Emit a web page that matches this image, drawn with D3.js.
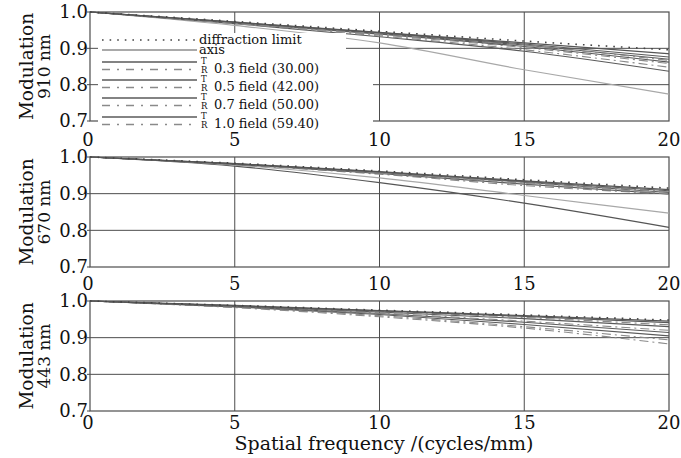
<!DOCTYPE html>
<html>
<head>
<meta charset="utf-8">
<script src="https://cdn.jsdelivr.net/npm/d3@7"></script>
<style>
  body { margin: 0; background: #fff; }
</style>
</head>
<body>
<div id="chart"></div>
<script>
// spatial frequency samples (cycles/mm)
const freq = [0, 5, 10, 15, 20];
const xTicks = [0, 5, 10, 15, 20];
const yTicks = [0.7, 0.8, 0.9, 1.0];

const seriesNames = ["diffraction limit", "axis",
    "0.3 T", "0.3 R", "0.5 T", "0.5 R", "0.7 T", "0.7 R", "1.0 T", "1.0 R"];
const legendFields = ["0.3 field (30.00)", "0.5 field (42.00)", "0.7 field (50.00)", "1.0 field (59.40)"];
const wavelengths = ["910 nm", "670 nm", "443 nm"];

// MTF values, one row per series
const mtf910 = [
    [1, 0.974, 0.947, 0.920, 0.896],
    [1, 0.972, 0.944, 0.915, 0.885],
    [1, 0.972, 0.943, 0.912, 0.876],
    [1, 0.970, 0.940, 0.908, 0.867],
    [1, 0.971, 0.941, 0.909, 0.870],
    [1, 0.969, 0.937, 0.902, 0.858],
    [1, 0.970, 0.939, 0.905, 0.862],
    [1, 0.968, 0.934, 0.896, 0.848],
    [1, 0.968, 0.932, 0.892, 0.837],
    [1, 0.963, 0.915, 0.841, 0.774]
];
const mtf670 = [
    [1, 0.983, 0.962, 0.938, 0.915],
    [1, 0.982, 0.960, 0.935, 0.911],
    [1, 0.982, 0.959, 0.933, 0.908],
    [1, 0.981, 0.958, 0.932, 0.905],
    [1, 0.981, 0.958, 0.931, 0.903],
    [1, 0.980, 0.956, 0.928, 0.900],
    [1, 0.980, 0.955, 0.926, 0.899],
    [1, 0.979, 0.953, 0.922, 0.899],
    [1, 0.978, 0.943, 0.895, 0.847],
    [1, 0.975, 0.930, 0.874, 0.808]
];
const mtf443 = [
    [1, 0.988, 0.975, 0.962, 0.948],
    [1, 0.988, 0.974, 0.960, 0.945],
    [1, 0.987, 0.973, 0.958, 0.941],
    [1, 0.987, 0.972, 0.955, 0.935],
    [1, 0.986, 0.970, 0.952, 0.930],
    [1, 0.985, 0.967, 0.945, 0.920],
    [1, 0.985, 0.966, 0.942, 0.914],
    [1, 0.983, 0.960, 0.930, 0.894],
    [1, 0.984, 0.963, 0.936, 0.905],
    [1, 0.982, 0.957, 0.926, 0.883]
];

function init() {
    const W = 681, H = 458;
    const left = 90, right = 669;
    const panels = [
        { top: 12, bottom: 121, data: mtf910, label: wavelengths[0], tickDy: 25 },
        { top: 157, bottom: 267, data: mtf670, label: wavelengths[1], tickDy: 23 },
        { top: 301, bottom: 411, data: mtf443, label: wavelengths[2], tickDy: 18 }
    ];

    // line style per series
    const styleOf = (name, i) => {
        if (i === 0) return { stroke: "#444", dash: "1.6,6", width: 1.6 };
        if (name === "axis") return { stroke: "#555", dash: null, width: 1.2 };
        if (name.endsWith("T")) return { stroke: "#5a5a5a", dash: null, width: 1.1 };
        return { stroke: "#8a8a8a", dash: "9,4,2,4", width: 1.1 };
    };
    const lightStyle = { stroke: "#a8a8a8", dash: null, width: 1.2 };

    const svg = d3.select("#chart").append("svg")
        .attr("width", W).attr("height", H)
        .attr("font-family", "'DejaVu Serif', 'Liberation Serif', serif")
        .attr("fill", "#111");

    const x = d3.scaleLinear().domain([0, 20]).range([left, right]);

    panels.forEach((p, pi) => {
        const y = d3.scaleLinear().domain([0.7, 1.0]).range([p.bottom, p.top]);
        const g = svg.append("g");

        // grid
        g.selectAll(".vg").data(xTicks.slice(1, -1)).join("line")
            .attr("x1", d => x(d)).attr("x2", d => x(d))
            .attr("y1", p.top).attr("y2", p.bottom)
            .attr("stroke", "#4d4d4d").attr("stroke-width", 1);
        g.selectAll(".hg").data(yTicks.slice(1, -1)).join("line")
            .attr("x1", left - 3).attr("x2", right)
            .attr("y1", d => y(d)).attr("y2", d => y(d))
            .attr("stroke", "#4d4d4d").attr("stroke-width", 1);
        g.append("rect")
            .attr("x", left).attr("y", p.top)
            .attr("width", right - left).attr("height", p.bottom - p.top)
            .attr("fill", "none").attr("stroke", "#4d4d4d").attr("stroke-width", 1.2);
        g.selectAll(".yt").data([0.7, 1.0]).join("line")
            .attr("x1", left - 3).attr("x2", left)
            .attr("y1", d => y(d)).attr("y2", d => y(d))
            .attr("stroke", "#4d4d4d");

        // curves
        const line = d3.line()
            .x((d, i) => x(freq[i]))
            .y(d => y(d))
            .curve(d3.curveMonotoneX);
        const order = d3.range(seriesNames.length).reverse();
        g.selectAll(".curve").data(order).join("path")
            .attr("d", i => line(p.data[i]))
            .attr("fill", "none")
            .each(function(i) {
                let s = styleOf(seriesNames[i], i);
                if (i === 9 && pi < 2) s = lightStyle;
                if (i === 8 && pi === 1) s = lightStyle;
                if (i === 9 && pi === 1) s = { stroke: "#555", dash: null, width: 1.2 };
                d3.select(this)
                    .attr("stroke", s.stroke)
                    .attr("stroke-width", s.width)
                    .attr("stroke-dasharray", s.dash);
            });

        // tick labels
        g.selectAll(".yl").data(yTicks).join("text")
            .attr("x", left - 2).attr("y", d => y(d))
            .attr("dy", "0.36em")
            .attr("text-anchor", "end")
            .attr("font-size", 18)
            .text(d => d.toFixed(1));
        g.selectAll(".xl").data(xTicks).join("text")
            .attr("x", d => x(d) - (d === 0 ? 2 : 0)).attr("y", p.bottom + p.tickDy)
            .attr("text-anchor", "middle")
            .attr("font-size", 18)
            .text(d => d);

        // y title, two lines
        const cy = (p.top + p.bottom) / 2;
        g.append("text")
            .attr("transform", `translate(33,${cy}) rotate(-90)`)
            .attr("text-anchor", "middle")
            .attr("font-size", 18.5)
            .text("Modulation");
        g.append("text")
            .attr("transform", `translate(50,${cy}) rotate(-90)`)
            .attr("text-anchor", "middle")
            .attr("font-size", 17)
            .text(p.label);
    });

    // legend sits on a white box over the first panel
    const lg = svg.append("g");
    lg.append("rect").attr("x", 98).attr("y", 33).attr("width", 248).attr("height", 96).attr("fill", "#fff");
    lg.append("rect").attr("x", 346).attr("y", 60).attr("width", 27).attr("height", 69).attr("fill", "#fff");

    const lx1 = 102, lx2 = 197;
    const rows = [
        { y: 40, s: styleOf(seriesNames[0], 0) },
        { y: 50, s: styleOf("axis", 1) }
    ];
    const fieldRows = [62, 80, 98, 117];
    fieldRows.forEach(r => {
        rows.push({ y: r, s: { stroke: "#5a5a5a", dash: null, width: 1.3 } });
        rows.push({ y: r + 7.5, s: { stroke: "#8a8a8a", dash: "8,7,2,7", width: 1.3 } });
    });
    lg.selectAll(".ll").data(rows).join("line")
        .attr("x1", lx1).attr("x2", lx2)
        .attr("y1", d => d.y).attr("y2", d => d.y)
        .attr("stroke", d => d.s.stroke)
        .attr("stroke-width", d => d.s.width)
        .attr("stroke-dasharray", d => d.s.dash);

    lg.append("text").attr("x", 199).attr("y", 44)
        .attr("font-size", 13).text(seriesNames[0]);
    lg.append("text").attr("x", 199).attr("y", 54)
        .attr("font-size", 13).text(seriesNames[1]);
    fieldRows.forEach((r, i) => {
        lg.append("text").attr("x", 201).attr("y", r + 2)
            .attr("font-size", 8.5).text("T");
        lg.append("text").attr("x", 201).attr("y", r + 11)
            .attr("font-size", 8.5).text("R");
        lg.append("text").attr("x", 214).attr("y", r + 11)
            .attr("font-size", 13).text(legendFields[i]);
    });

    // x title
    svg.append("text")
        .attr("x", 384).attr("y", 450)
        .attr("text-anchor", "middle")
        .attr("font-size", 19)
        .text("Spatial frequency /(cycles/mm)");
}

window.onload = init;
</script>
</body>
</html>
